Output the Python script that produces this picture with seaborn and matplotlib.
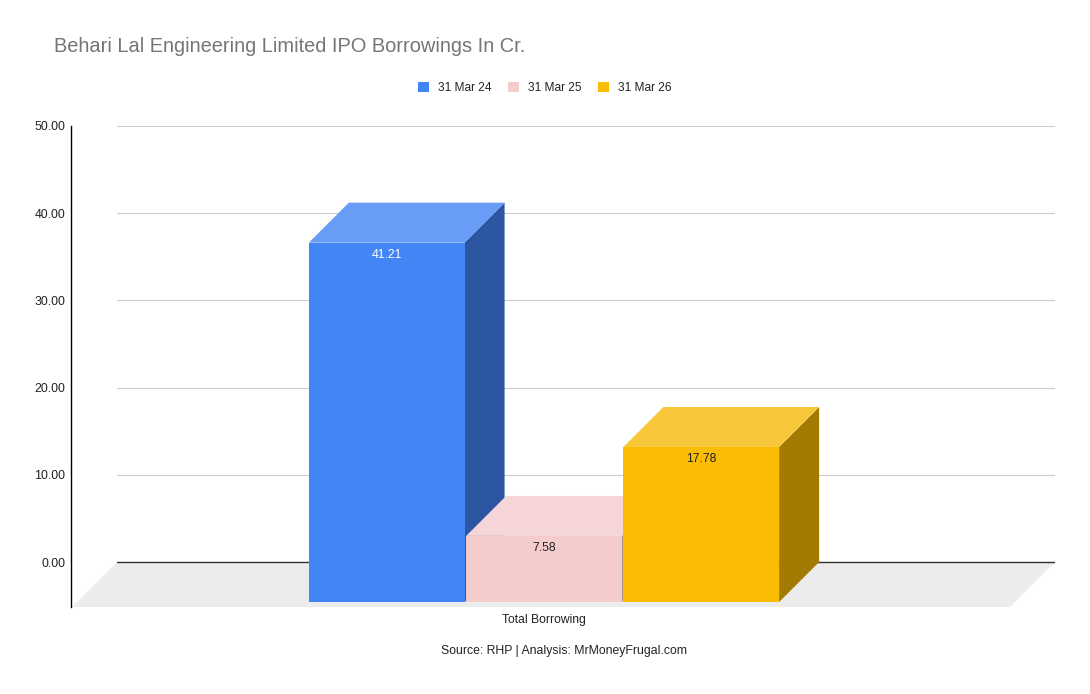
import matplotlib
matplotlib.use("Agg")
import matplotlib.pyplot as plt
import seaborn as sns
import pandas as pd
from matplotlib.patches import Polygon, Patch
from matplotlib.transforms import ScaledTranslation, IdentityTransform
from matplotlib.ticker import StrMethodFormatter

# data
categories = ["Total Borrowing"]
periods = ["31 Mar 24", "31 Mar 25", "31 Mar 26"]
borrowings = [41.21, 7.58, 17.78]

front_colors = ["#4285f4", "#f4cccc", "#fbbc04"]
top_colors = ["#689cf6", "#f5d5d7", "#f9c73a"]
side_colors = ["#2c56a2", "#a89090", "#a37b03"]
label_colors = ["white", "#222222", "#222222"]

df = pd.DataFrame({
    "category": categories * len(periods),
    "period": periods,
    "value": borrowings,
})

DPI = 100
DEPTH = 40   # depth of the 3d boxes in px
FLOOR = 45   # depth of the floor in px
W, H = 1090, 694

sns.set_theme(style="white")
plt.rcParams["font.family"] = ["Liberation Sans", "DejaVu Sans"]

fig = plt.figure(figsize=(W / DPI, H / DPI), dpi=DPI)
ax = fig.add_axes([117 / W, 87 / H, 938 / W, 481 / H])

sns.barplot(data=df, x="category", y="value", hue="period", hue_order=periods,
            palette=front_colors, width=0.503, gap=0.01, saturation=1, errorbar=None,
            edgecolor="none", linewidth=0, legend=False, ax=ax)

shift = 2 / 938
ax.set_xlim(-0.5 + shift, 0.5 + shift)
ax.set_ylim(-5.16, 50)
ax.set_yticks(range(0, 51, 10))
ax.yaxis.set_major_formatter(StrMethodFormatter("{x:.2f}"))
ax.set_xticks([])
ax.set_xlabel("")
ax.set_ylabel("")
ax.tick_params(axis="y", length=0, pad=4.3, labelsize=8.9, labelcolor="#222222")
ax.yaxis.grid(True, color="#cccccc", lw=0.8)
ax.set_axisbelow(True)
for s in ["top", "right", "bottom"]:
    ax.spines[s].set_visible(False)
ax.spines["left"].set_position(("outward", 46 * 72 / DPI))
ax.spines["left"].set_color("#000000")
ax.spines["left"].set_linewidth(1)

ax.axhline(0, color="#333333", lw=1, zorder=2)

# floor
xl = ax.get_xlim()
(fx0, fy0), (fx1, fyb) = ax.transData.transform([(xl[0], 0), (xl[1], ax.get_ylim()[0])])
floor = [(fx0, fy0), (fx1, fy0), (fx1 - FLOOR, fyb), (fx0 - FLOOR, fyb)]
ax.add_patch(Polygon(floor, closed=True, transform=IdentityTransform(),
                     facecolor="#ececec", edgecolor="none", zorder=1, clip_on=False))

offset = ScaledTranslation(-DEPTH / DPI, -DEPTH / DPI, fig.dpi_scale_trans)
bars = sorted(ax.patches[:len(periods)], key=lambda p: p.get_x())
for i, bar in enumerate(bars):
    x0, w, h = bar.get_x(), bar.get_width(), bar.get_height()
    (bx0, by0), (bx1, by1) = ax.transData.transform([(x0, 0), (x0 + w, h)])
    bar.set_transform(ax.transData + offset)
    bar.set_zorder(3 + i + 0.5)
    bar.set_clip_on(False)
    top = [(bx0, by1), (bx1, by1), (bx1 - DEPTH, by1 - DEPTH), (bx0 - DEPTH, by1 - DEPTH)]
    side = [(bx1, by1), (bx1, by0), (bx1 - DEPTH, by0 - DEPTH), (bx1 - DEPTH, by1 - DEPTH)]
    for pts, c in ((side, side_colors[i]), (top, top_colors[i])):
        ax.add_patch(Polygon(pts, closed=True, transform=IdentityTransform(),
                             facecolor=c, edgecolor="none", zorder=3 + i, clip_on=False))
    ax.annotate(f"{h:.2f}", xy=(x0 + w / 2, h), xytext=(-DEPTH, -DEPTH - 12),
                textcoords="offset pixels", ha="center", va="center",
                fontsize=8.8, color=label_colors[i], zorder=10)

# category label sits under the front faces
ax.annotate(categories[0], xy=(0, 0), xycoords=("data", "axes fraction"),
            xytext=(-DEPTH, -13), textcoords="offset pixels",
            ha="center", va="center", fontsize=8.7, color="#222222")

handles = [Patch(facecolor=c, edgecolor="none") for c in front_colors]
fig.legend(handles, periods, loc="center", bbox_to_anchor=(0.5, 1 - 88 / H),
           ncol=3, frameon=False, fontsize=8.6, handlelength=0.92,
           handleheight=0.92, handletextpad=0.75, columnspacing=1.4,
           labelcolor="#222222")

fig.text(54 / W, 1 - 47 / H, "Behari Lal Engineering Limited IPO Borrowings In Cr.",
         ha="left", va="center", fontsize=14.4, color="#757575")
fig.text(564 / W, 1 - 651 / H, "Source: RHP | Analysis: MrMoneyFrugal.com",
         ha="center", va="center", fontsize=8.8, color="#222222")

fig.savefig("out.png", dpi=DPI)
